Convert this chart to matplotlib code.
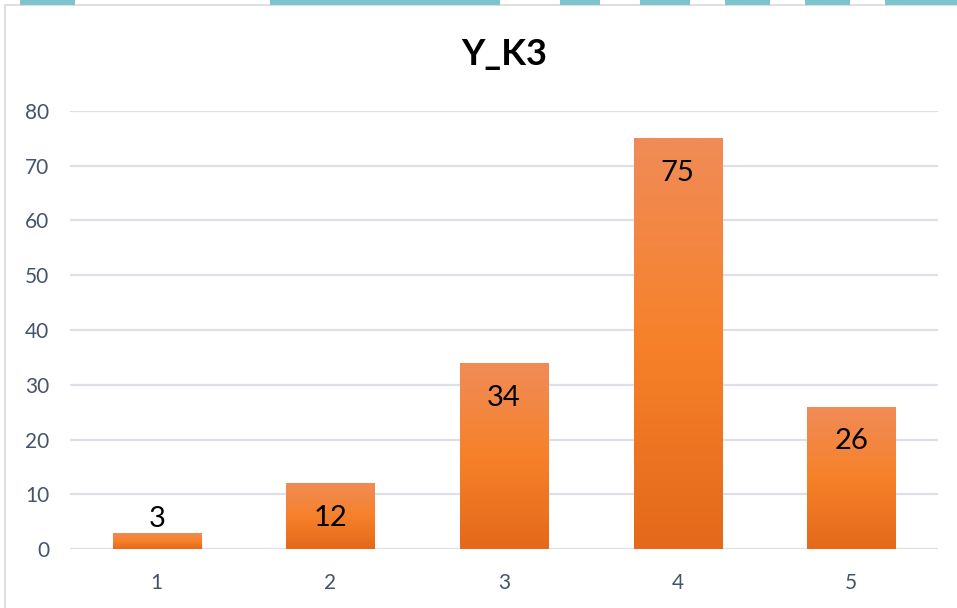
import numpy as np
import matplotlib.pyplot as plt
from matplotlib.patches import Rectangle
from matplotlib.colors import LinearSegmentedColormap

# chart data
categories = ['1', '2', '3', '4', '5']
counts = [3, 12, 34, 75, 26]
title = 'Y_K3'
yticks = [0, 10, 20, 30, 40, 50, 60, 70, 80]

W, H = 957, 608
fig = plt.figure(figsize=(W / 100, H / 100), dpi=100)
plt.rcParams['font.family'] = ['Lato', 'DejaVu Sans']

# outer chart frame + watermark strip at the very top
fig.patches.append(Rectangle((5 / W, -0.1), 2.0, (H - 5) / H + 0.1, transform=fig.transFigure,
                             facecolor='white', edgecolor='#d9d9d9', lw=1.2, zorder=-5))
for x0, x1 in [(20, 75), (270, 500), (560, 600), (640, 690), (725, 770), (805, 850), (885, 957)]:
    fig.patches.append(Rectangle((x0 / W, (H - 5) / H), (x1 - x0) / W, 5 / H, zorder=-4,
                                 transform=fig.transFigure, facecolor='#7fc4cc', edgecolor='none'))

ax = fig.add_axes([70 / W, 59 / H, 868 / W, 438 / H])
ax.set_facecolor('none')

x = np.arange(len(categories))
width = 0.507
bars = ax.bar(x, counts, width=width, color='#f4812d', zorder=2)

# orange vertical gradient as in the office chart
cmap = LinearSegmentedColormap.from_list('org', ['#e4691a', '#f6812a', '#f08c58'])
grad = np.linspace(0, 1, 256).reshape(-1, 1)
for b in bars:
    im = ax.imshow(grad, cmap=cmap, origin='lower', aspect='auto', zorder=3,
                   extent=(b.get_x(), b.get_x() + b.get_width(), 0, b.get_height()))
    im.set_clip_path(b)

ax.set_xlim(-0.5, len(categories) - 0.5)
ax.set_ylim(0, 80)
ax.set_yticks(yticks)
ax.set_xticks(x)
ax.set_xticklabels(categories)
ax.grid(axis='y', color='#dde1e7', lw=1.6, zorder=0)
ax.set_axisbelow(True)
for s in ax.spines.values():
    s.set_visible(False)
ax.tick_params(axis='both', length=0, labelsize=15, colors='#44546a')
ax.tick_params(axis='y', pad=15)
ax.tick_params(axis='x', pad=17)

for xi, v in zip(x, counts):
    if v * 438 / 80 < 45:
        ax.annotate(str(v), (xi, v), xytext=(0, 10), textcoords='offset points',
                    ha='center', va='center', fontsize=21, color='black', zorder=5)
    else:
        ax.annotate(str(v), (xi, v), xytext=(0, -25), textcoords='offset points',
                    ha='center', va='center', fontsize=21, color='black', zorder=5)

fig.text(504 / W, 1 - 54 / H, title, ha='center', va='center', fontsize=26, fontweight='bold')

fig.savefig('out.png', dpi=100)
